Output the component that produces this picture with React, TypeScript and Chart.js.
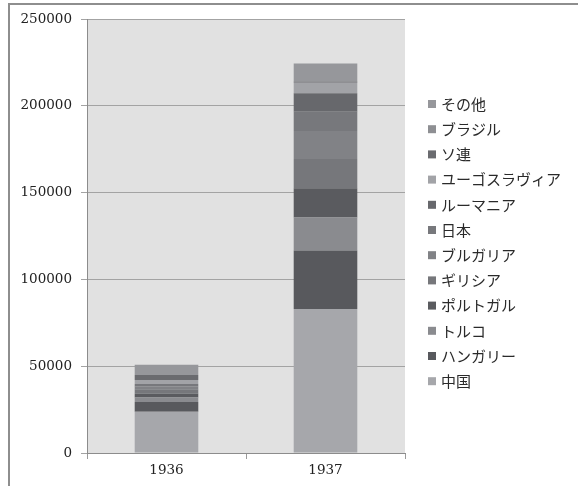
import React, { useEffect, useRef } from "react";
import { Chart, registerables } from "chart.js";

Chart.register(...registerables);

const categories = ["1936", "1937"];

const seriesNames = [
  "中国",
  "ハンガリー",
  "トルコ",
  "ポルトガル",
  "ギリシア",
  "ブルガリア",
  "日本",
  "ルーマニア",
  "ユーゴスラヴィア",
  "ソ連",
  "ブラジル",
  "その他",
];

const china = [23800, 83000];
const hungary = [5600, 33600];
const turkey = [2500, 19000];
const portugal = [2300, 16900];
const greece = [2500, 16900];
const bulgaria = [1800, 16100];
const japan = [1300, 11100];
const romania = [0, 10600];
const yugoslavia = [2300, 6100];
const ussr = [2900, 700];
const brazil = [0, 0];
const others = [5900, 10400];

const seriesValues = [
  china,
  hungary,
  turkey,
  portugal,
  greece,
  bulgaria,
  japan,
  romania,
  yugoslavia,
  ussr,
  brazil,
  others,
];

const seriesColors = [
  "#a6a7ab",
  "#58595d",
  "#8a8b8f",
  "#5a5b5f",
  "#76777b",
  "#818286",
  "#77787c",
  "#67686c",
  "#a2a3a7",
  "#6a6b6f",
  "#8e8f93",
  "#96979b",
];

const yTicks = [0, 50000, 100000, 150000, 200000, 250000];

const plotBg = {
  id: "plotBg",
  beforeDraw(chart: any) {
    const { ctx, chartArea: a } = chart;
    ctx.save();
    ctx.fillStyle = "#e1e1e1";
    ctx.fillRect(a.left, a.top, a.right - a.left, a.bottom - a.top);
    ctx.restore();
  },
};

// Legend drawn beside the plot from the chart's own datasets (reversed order)
const sideLegend = {
  id: "sideLegend",
  afterDraw(chart: any) {
    const { ctx, chartArea: a } = chart;
    const items = chart.data.datasets
      .map((d: any) => ({ label: d.label, color: d.backgroundColor }))
      .reverse();
    const boxX = a.right + 23;
    const firstY = 104;
    const step = 25.2;
    ctx.save();
    ctx.font = '15px "Noto Sans CJK JP", sans-serif';
    ctx.textBaseline = "middle";
    ctx.textAlign = "left";
    items.forEach((it: any, i: number) => {
      const cy = firstY + i * step;
      ctx.fillStyle = it.color;
      ctx.fillRect(boxX, cy - 4, 8, 8);
      ctx.fillStyle = "#2a2a2a";
      ctx.fillText(it.label, boxX + 13, cy);
    });
    ctx.restore();
  },
};

export default function App() {
  const ref = useRef<HTMLCanvasElement | null>(null);

  useEffect(() => {
    if (!ref.current) return;
    const tickFont = { family: '"DejaVu Serif", serif', size: 13.5 };
    const chart = new Chart(ref.current, {
      type: "bar",
      data: {
        labels: categories,
        datasets: seriesNames.map((name, i) => ({
          label: name,
          data: seriesValues[i],
          backgroundColor: seriesColors[i],
          borderWidth: 0,
          barPercentage: 0.4,
          categoryPercentage: 1,
        })),
      },
      options: {
        animation: false,
        responsive: false,
        maintainAspectRatio: false,
        layout: { padding: { top: 19, bottom: 0, left: 0, right: 173 } },
        plugins: {
          tooltip: { enabled: false },
          legend: { display: false },
        },
        scales: {
          x: {
            stacked: true,
            grid: {
              offset: true,
              drawOnChartArea: false,
              color: "#9a9a9a",
              tickLength: 6,
            },
            border: { color: "#8c8c8c" },
            ticks: { color: "#222", font: tickFont, padding: 3 },
            afterFit: (s: any) => {
              s.height = 33;
            },
          },
          y: {
            stacked: true,
            min: 0,
            max: 250000,
            afterBuildTicks: (s: any) => {
              s.ticks = yTicks.map((v) => ({ value: v }));
            },
            ticks: {
              color: "#222",
              font: tickFont,
              padding: 9,
              callback: (v: any) => String(v),
            },
            grid: { color: "#a3a3a3", tickLength: 6 },
            border: { color: "#8c8c8c" },
            afterFit: (s: any) => {
              s.width = 87;
            },
          },
        },
      },
      plugins: [plotBg, sideLegend],
    });
    return () => chart.destroy();
  }, []);

  return (
    <div
      style={{
        position: "fixed",
        left: 0,
        top: 0,
        width: 578,
        height: 486,
        background: "#fff",
        overflow: "hidden",
      }}
    >
      <div
        style={{
          position: "absolute",
          left: 8,
          top: 3,
          width: 600,
          height: 520,
          borderTop: "2px solid #8e8e8e",
          borderLeft: "2px solid #8e8e8e",
        }}
      />
      <canvas
        ref={ref}
        width={578}
        height={486}
        style={{ position: "absolute", left: 0, top: 0, width: 578, height: 486 }}
      />
    </div>
  );
}
